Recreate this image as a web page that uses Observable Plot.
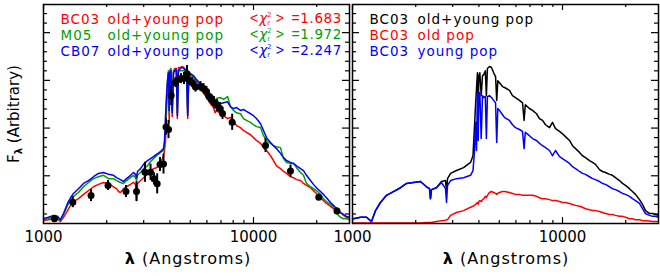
<!DOCTYPE html>
<html>
<head>
<meta charset="utf-8">
<script src="https://cdn.jsdelivr.net/npm/d3@7"></script>
<script src="https://cdn.jsdelivr.net/npm/@observablehq/plot@0.6"></script>
<style>
  html, body { margin: 0; padding: 0; background: #fff; }
  #chart { position: relative; width: 660px; height: 276px; overflow: hidden; background: #fff; }
  #chart > svg { position: absolute; top: 0; }
</style>
</head>
<body>
<div id="chart"></div>
<script>
// ---------------- DATA ----------------
// Left panel: model wavelength grid (Angstroms)
const lamLeft = [1000, 1056, 1116, 1166, 1205, 1245, 1301, 1345, 1389, 1468,
  1551, 1638, 1730, 1828, 1931, 2040, 2154, 2226, 2276, 2326,
  2404, 2485, 2597, 2683, 2743, 2773, 2804, 2898, 2994, 3129,
  3234, 3341, 3453, 3568, 3648, 3728, 3769, 3811, 3853, 3895,
  3935, 3968, 4000, 4040, 4101, 4160, 4220, 4290, 4340, 4390,
  4490, 4590, 4700, 4800, 4861, 4920, 5010, 5180, 5300, 5590,
  5780, 5970, 6240, 6450, 6563, 6650, 6960, 7200, 7520, 7770,
  8030, 8300, 8670, 8960, 9260, 9680, 10000, 10330, 10800, 11160,
  11540, 12050, 12450, 12870, 13440, 13900, 14360, 15000, 15500, 16020,
  16740, 17300, 17880, 18670, 19310, 19950, 20840, 21540, 22260, 23260,
  24040, 24840, 25950, 26830, 27720, 28650];

const fluxBC03 = [0.06, 0.08, 0.10, 0.10, 0.04, 0.13, 0.27, 0.38, 0.46, 0.52,
  0.61, 0.69, 0.77, 0.82, 0.86, 0.84, 0.77, 0.73, 0.67, 0.65,
  0.73, 0.77, 0.82, 0.86, 0.82, 0.48, 0.84, 0.90, 0.96, 1.03,
  1.11, 1.15, 1.17, 1.24, 1.32, 1.42, 1.53, 1.74, 2.37, 2.89,
  3.16, 2.12, 3.20, 3.25, 2.24, 3.20, 3.25, 3.25, 2.20, 3.27,
  3.27, 3.29, 3.25, 3.20, 2.20, 3.16, 3.12, 3.06, 2.99, 2.85,
  2.74, 2.64, 2.51, 2.43, 2.32, 2.37, 2.30, 2.26, 2.20, 2.22,
  2.16, 2.05, 2.01, 1.95, 1.91, 1.86, 1.80, 1.74, 1.68, 1.59,
  1.53, 1.42, 1.32, 1.21, 1.15, 1.09, 1.05, 0.98, 0.96, 0.92,
  0.90, 0.84, 0.80, 0.75, 0.69, 0.63, 0.54, 0.48, 0.42, 0.36,
  0.31, 0.27, 0.23, 0.17, 0.13, 0.10];

const fluxM05 = [0.08, 0.10, 0.15, 0.13, 0.06, 0.19, 0.38, 0.48, 0.57, 0.65,
  0.77, 0.86, 0.94, 0.98, 1.01, 0.94, 0.94, 0.90, 0.88, 0.86,
  0.84, 0.90, 0.96, 1.01, 0.96, 0.90, 1.01, 1.07, 1.15, 1.21,
  1.30, 1.36, 1.42, 1.47, 1.51, 1.53, 1.63, 2.05, 2.58, 2.99,
  3.20, 2.32, 3.20, 3.25, 2.37, 3.20, 3.20, 3.20, 2.32, 3.20,
  3.20, 3.20, 3.20, 3.16, 2.32, 3.12, 3.12, 3.08, 3.02, 2.93,
  2.85, 2.79, 2.72, 2.66, 2.49, 2.62, 2.64, 2.60, 2.66, 2.45,
  2.37, 2.32, 2.30, 2.20, 2.16, 2.12, 2.07, 2.03, 2.01, 1.84,
  1.74, 1.68, 1.63, 1.61, 1.59, 1.36, 1.28, 1.26, 1.26, 1.17,
  1.07, 1.01, 0.84, 0.77, 0.73, 0.69, 0.61, 0.52, 0.46, 0.40,
  0.34, 0.21, 0.13, 0.10, 0.10, 0.08];

const fluxCB07 = [0.10, 0.13, 0.17, 0.15, 0.08, 0.21, 0.42, 0.54, 0.63, 0.73,
  0.84, 0.90, 0.98, 1.05, 1.07, 1.03, 1.01, 0.96, 0.94, 0.92,
  0.88, 0.94, 1.01, 1.07, 1.03, 0.96, 1.09, 1.15, 1.24, 1.32,
  1.36, 1.40, 1.45, 1.49, 1.53, 1.57, 1.74, 2.26, 2.68, 2.99,
  3.16, 2.37, 3.16, 3.20, 2.32, 3.16, 3.20, 3.23, 2.26, 3.20,
  3.25, 3.27, 3.23, 3.20, 2.26, 3.16, 3.14, 3.10, 3.04, 2.93,
  2.87, 2.79, 2.68, 2.62, 2.45, 2.58, 2.51, 2.53, 2.55, 2.45,
  2.41, 2.43, 2.37, 2.39, 2.35, 2.30, 2.26, 2.20, 2.09, 1.95,
  1.80, 1.70, 1.63, 1.57, 1.47, 1.38, 1.32, 1.28, 1.26, 1.21,
  1.15, 1.11, 1.01, 0.90, 0.82, 0.75, 0.67, 0.61, 0.54, 0.44,
  0.38, 0.31, 0.23, 0.19, 0.15, 0.13];

// Left panel: observed photometry with error bars
const obsLam = [1128, 1379, 1684, 2029, 2471, 2773, 3043, 3234, 3359, 3478,
  3588, 3728, 3831, 3938, 4057, 4252, 4370, 4516, 4667, 4825,
  4958, 5096, 5294, 5593, 5780, 5974, 6138, 6310, 6485, 6702,
  6926, 7118, 7914, 11406, 15000, 20460, 24980];
const obsFlux = [0.098, 0.446, 0.586, 0.796, 0.670, 0.670, 1.074, 1.074, 0.936, 0.831,
  1.236, 1.246, 2.021, 1.969, 2.681, 2.953, 3.016, 3.037, 3.037, 3.141,
  2.995, 2.953, 2.859, 2.869, 2.827, 2.764, 2.660, 2.597, 2.534, 2.471,
  2.408, 2.304, 2.121, 1.634, 1.099, 0.551, 0.262];
const obsErr = [0.073, 0.115, 0.126, 0.105, 0.126, 0.21, 0.21, 0.17, 0.126, 0.21,
  0.147, 0.21, 0.17, 0.19, 0.21, 0.105, 0.105, 0.105, 0.126, 0.17,
  0.105, 0.105, 0.105, 0.105, 0.105, 0.105, 0.105, 0.105, 0.126, 0.126,
  0.126, 0.126, 0.17, 0.147, 0.126, 0.063, 0.063];

// Right panel: BC03 decomposition
const lamRight = [1011, 1092, 1166, 1232, 1287, 1359, 1452, 1567, 1693, 1808,
  1951, 2107, 2251, 2326, 2351, 2378, 2512, 2652, 2773, 2804,
  2835, 2931, 3129, 3379, 3648, 3748, 3811, 3853, 3895,
  3935, 3968, 4000, 4040, 4101, 4160, 4220, 4290, 4340, 4390,
  4490, 4590, 4700, 4800, 4861, 4920, 5010, 5180, 5300, 5590,
  5780, 5970, 6240, 6450, 6563, 6650, 6960, 7200, 7520, 7770,
  8030, 8300, 8670, 8960, 9260, 9680, 10000, 10330, 10800, 11160,
  11540, 12050, 12450, 12870, 13440, 13900, 14360, 15000, 15500, 16020,
  16740, 17300, 17880, 18670, 19310, 19950, 20840, 21540, 22260, 23260,
  24040, 24840, 25950, 26830, 27720, 28650];

const fluxTotal = [0.10, 0.13, 0.13, 0.04, 0.27, 0.44, 0.59, 0.67, 0.75, 0.84,
  0.86, 0.88, 0.77, 0.73, 0.52, 0.71, 0.75, 0.88, 0.90, 0.69,
  0.94, 1.05, 1.11, 1.17, 1.28, 1.42, 2.05, 2.47, 2.83,
  3.16, 2.47, 3.10, 3.16, 2.68, 3.10, 3.12, 3.20, 2.68, 3.25,
  3.29, 3.27, 3.16, 3.08, 2.58, 2.99, 2.95, 2.87, 2.85, 2.79,
  2.68, 2.64, 2.58, 2.53, 2.16, 2.49, 2.41, 2.37, 2.30, 2.20,
  2.16, 2.07, 2.01, 2.12, 1.99, 1.93, 1.88, 1.82, 1.74, 1.63,
  1.57, 1.49, 1.42, 1.38, 1.32, 1.28, 1.24, 1.13, 1.09, 1.07,
  1.03, 1.01, 0.96, 0.90, 0.84, 0.80, 0.73, 0.67, 0.61, 0.50,
  0.40, 0.27, 0.21, 0.21, 0.19, 0.17];

const fluxOld = [0.01, 0.01, 0.01, 0.01, 0.01, 0.01, 0.01, 0.01, 0.01, 0.01,
  0.01, 0.01, 0.02, 0.02, 0.02, 0.02, 0.04, 0.06, 0.07, 0.08,
  0.08, 0.17, 0.23, 0.27, 0.34, 0.36, 0.38, 0.40, 0.42,
  0.44, 0.40, 0.46, 0.48, 0.46, 0.50, 0.52, 0.57, 0.54, 0.59,
  0.65, 0.67, 0.65, 0.63, 0.61, 0.63, 0.65, 0.67, 0.67, 0.65,
  0.63, 0.61, 0.61, 0.59, 0.59, 0.59, 0.59, 0.59, 0.57, 0.54,
  0.52, 0.52, 0.50, 0.48, 0.48, 0.46, 0.44, 0.44, 0.42, 0.40,
  0.38, 0.36, 0.34, 0.31, 0.29, 0.27, 0.27, 0.25, 0.23, 0.21,
  0.19, 0.19, 0.17, 0.15, 0.15, 0.13, 0.10, 0.10, 0.08, 0.08,
  0.06, 0.06, 0.05, 0.04, 0.04, 0.04];

const fluxYoung = [0.10, 0.13, 0.13, 0.04, 0.27, 0.44, 0.59, 0.67, 0.75, 0.84,
  0.86, 0.88, 0.77, 0.73, 0.52, 0.71, 0.75, 0.86, 0.73, 0.44,
  0.80, 0.90, 0.94, 0.96, 1.01, 1.11, 1.53, 2.12, 1.53,
  2.74, 1.74, 2.74, 2.74, 1.78, 2.68, 2.64, 2.66, 1.78, 2.66,
  2.68, 2.64, 2.58, 2.53, 1.70, 2.41, 2.37, 2.28, 2.22, 2.16,
  2.07, 2.01, 1.97, 1.93, 1.57, 1.91, 1.84, 1.78, 1.74, 1.68,
  1.63, 1.59, 1.53, 1.42, 1.53, 1.40, 1.36, 1.32, 1.26, 1.19,
  1.15, 1.09, 1.05, 1.03, 0.98, 0.94, 0.92, 0.88, 0.84, 0.82,
  0.77, 0.73, 0.71, 0.67, 0.63, 0.61, 0.57, 0.52, 0.48, 0.42,
  0.31, 0.21, 0.17, 0.15, 0.15, 0.13];

// Legend texts and fit statistics
const leftModels = ["BC03", "M05", "CB07"];
const leftDesc = ["old+young pop", "old+young pop", "old+young pop"];
const chiValues = ["1.683", "1.972", "2.247"];
const rightModels = ["BC03", "BC03", "BC03"];
const rightDesc = ["old+young pop", "old pop", "young pop"];

// Axis ticks
const xDomain = [1000, 28650];
const yDomain = [0, 4.59];
const xMajor = [1000, 10000];
const xMinor = [2000, 3000, 4000, 5000, 6000, 7000, 8000, 9000, 20000];
const yMajor = [1, 2, 3, 4];
const yMinor = [0.2, 0.4, 0.6, 0.8, 1.2, 1.4, 1.6, 1.8, 2.2, 2.4, 2.6, 2.8, 3.2, 3.4, 3.6, 3.8, 4.2, 4.4];

// ---------------- DRAWING ----------------
const FONT = "DejaVu Sans, sans-serif";
const NARROW = "Liberation Sans, Arial, sans-serif";
const RED = "#ff0000", GREEN = "#00a000", BLUE = "#0000ff", BLACK = "#000000";
const H = 276, MT = 4, MB = 53;
const innerH = H - MT - MB;
const LEG = 13.5;

const series = (lams, fl) => lams.map((lam, i) => ({lam, flux: fl[i]}));
const obs = obsLam.map((lam, i) => ({lam, flux: obsFlux[i], err: obsErr[i]}));

function axesMarks(innerW) {
  const s = {stroke: BLACK, strokeWidth: 1.2};
  return [
    Plot.ruleX(xMajor, {...s, insetTop: innerH - 6}),
    Plot.ruleX(xMajor, {...s, insetBottom: innerH - 6}),
    Plot.ruleX(xMinor, {...s, insetTop: innerH - 3}),
    Plot.ruleX(xMinor, {...s, insetBottom: innerH - 3}),
    Plot.ruleY(yMajor, {...s, insetRight: innerW - 7}),
    Plot.ruleY(yMajor, {...s, insetLeft: innerW - 7}),
    Plot.ruleY(yMinor, {...s, insetRight: innerW - 4}),
    Plot.ruleY(yMinor, {...s, insetLeft: innerW - 4}),
    Plot.frame({stroke: BLACK, strokeWidth: 1.5}),
    Plot.axisX(xMajor, {tickSize: 0, tickPadding: 8, tickFormat: d3.format("d"), label: null, fontSize: 15})
  ];
}

function legendMarks(names, descs, colors, descDx) {
  const marks = [];
  names.forEach((n, i) => {
    marks.push(Plot.text([n], {frameAnchor: "top-left", dx: 17, dy: 19 + 16 * i, lineAnchor: "bottom", textAnchor: "start", fill: colors[i], fontSize: LEG}));
    marks.push(Plot.text([descs[i]], {frameAnchor: "top-left", dx: descDx, dy: 19 + 16 * i, lineAnchor: "bottom", textAnchor: "start", fill: colors[i], fontSize: LEG}));
  });
  return marks;
}

const baseStyle = {background: "transparent", overflow: "visible", fontFamily: FONT, fontSize: "15px", color: "black"};

// Left panel
const leftSvg = Plot.plot({
  width: 352, height: H,
  marginLeft: 43, marginRight: 3, marginTop: MT, marginBottom: MB,
  style: baseStyle,
  x: {type: "log", domain: xDomain},
  y: {domain: yDomain, axis: null},
  marks: [
    Plot.line(series(lamLeft, fluxBC03), {x: "lam", y: "flux", stroke: RED, strokeWidth: 1.5, clip: true}),
    Plot.line(series(lamLeft, fluxM05), {x: "lam", y: "flux", stroke: GREEN, strokeWidth: 1.5, clip: true}),
    Plot.line(series(lamLeft, fluxCB07), {x: "lam", y: "flux", stroke: BLUE, strokeWidth: 1.5, clip: true}),
    Plot.ruleX(obs, {x: "lam", y1: d => d.flux - d.err, y2: d => d.flux + d.err, stroke: BLACK, strokeWidth: 2}),
    Plot.dot(obs, {x: "lam", y: "flux", r: 3.5, fill: BLACK, stroke: null}),
    ...axesMarks(306),
    ...legendMarks(leftModels, leftDesc, [RED, GREEN, BLUE], 64)
  ]
});

// Right panel
const rightSvg = Plot.plot({
  width: 311, height: H,
  marginLeft: 3, marginRight: 2, marginTop: MT, marginBottom: MB,
  style: baseStyle,
  x: {type: "log", domain: xDomain},
  y: {domain: yDomain, axis: null},
  marks: [
    Plot.line(series(lamRight, fluxTotal), {x: "lam", y: "flux", stroke: BLACK, strokeWidth: 1.5, clip: true}),
    Plot.line(series(lamRight, fluxOld), {x: "lam", y: "flux", stroke: RED, strokeWidth: 1.5, clip: true}),
    Plot.line(series(lamRight, fluxYoung), {x: "lam", y: "flux", stroke: BLUE, strokeWidth: 1.5, clip: true}),
    ...axesMarks(306),
    ...legendMarks(rightModels, rightDesc, [BLACK, RED, BLUE], 65)
  ]
});

// wider letter spacing for the legend lettering (IDL-like font)
[leftSvg, rightSvg].forEach(svg => {
  d3.select(svg).selectAll("g[aria-label='text'] text").attr("letter-spacing", 1);
});

const chart = document.getElementById("chart");
leftSvg.style.left = "0px";
rightSvg.style.left = "349px";
chart.appendChild(leftSvg);
chart.appendChild(rightSvg);

// Rich text labels (stacked superscript 2 / subscript r)
function chiLabel(svg, xStart, xEnd, baseline, color, value) {
  const g = d3.select(svg).append("g").attr("fill", color).attr("font-family", FONT).attr("font-size", LEG);
  const t = g.append("text").attr("x", xStart).attr("y", baseline).attr("text-anchor", "start");
  t.append("tspan").attr("font-family", NARROW).attr("font-size", 14).text("<");
  t.append("tspan").attr("font-style", "italic").attr("dx", 1).text("χ");
  t.append("tspan").attr("font-size", 6.5).attr("dy", -6.3).text("2");
  t.append("tspan").attr("font-size", 6.5).attr("dx", -4.2).attr("dy", 7.9).text("r");
  t.append("tspan").attr("font-family", NARROW).attr("font-size", 14).attr("dy", -1.6).attr("dx", 6).text(">");
  const v = g.append("text").attr("x", xEnd).attr("y", baseline).attr("text-anchor", "end").attr("letter-spacing", 0.6);
  v.append("tspan").attr("font-family", NARROW).attr("font-size", 14).text("=");
  v.append("tspan").text(value);
}
[RED, GREEN, BLUE].forEach((c, i) => chiLabel(leftSvg, 250, 342, 23 + 16 * i, c, chiValues[i]));

function xLabel(svg, cx) {
  const t = d3.select(svg).append("text").attr("x", cx).attr("y", 264)
    .attr("text-anchor", "middle").attr("font-size", 16).attr("font-family", FONT)
    .attr("letter-spacing", 1).attr("fill", BLACK);
  t.append("tspan").attr("font-weight", "bold").text("λ");
  t.append("tspan").text(" (Angstroms)");
}
xLabel(leftSvg, 188);
xLabel(rightSvg, 157);

const yl = d3.select(leftSvg).append("text")
  .attr("transform", "translate(19,114) rotate(-90)")
  .attr("text-anchor", "middle").attr("font-size", 15).attr("font-family", FONT).attr("fill", BLACK);
yl.append("tspan").text("F");
yl.append("tspan").attr("font-size", 10).attr("dy", 3).attr("font-weight", "bold").text("λ");
yl.append("tspan").attr("dy", -3).text(" (Arbitrary)");
</script>
</body>
</html>
